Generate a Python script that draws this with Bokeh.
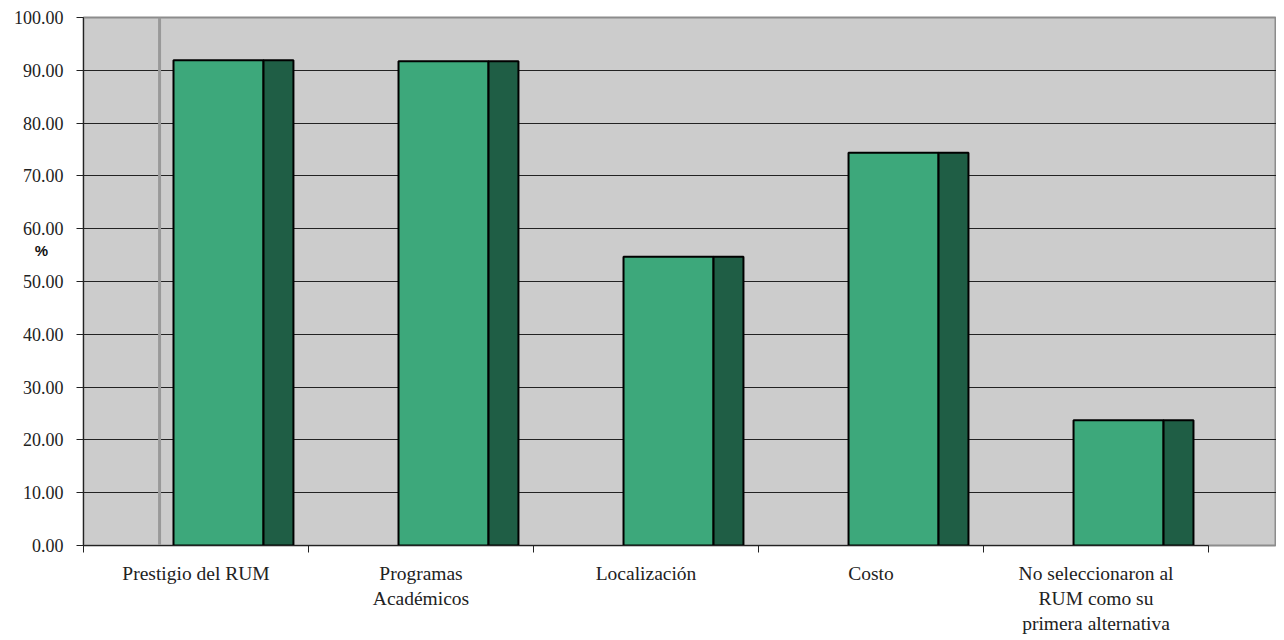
from bokeh.plotting import figure
from bokeh.models import FixedTicker, Range1d, Span, NumeralTickFormatter
from bokeh.embed import file_html
from bokeh.resources import INLINE

categories = ["Prestigio del RUM", "Programas\nAcadémicos", "Localización", "Costo",
              "No seleccionaron al\nRUM como su\nprimera alternativa"]
values = [91.9, 91.7, 54.7, 74.4, 23.7]
y_ticks = [0, 10, 20, 30, 40, 50, 60, 70, 80, 90, 100]

n = len(categories)
idx = list(range(n))
front_left = [i + 0.4 for i in idx]
front_right = [i + 0.8 for i in idx]
side_right = [i + 0.933 for i in idx]
zeros = [0] * n

p = figure(width=1276, height=640, output_backend="svg", toolbar_location=None,
           x_range=Range1d(0, 5.302), y_range=Range1d(0, 100),
           min_border_left=83, min_border_right=0, min_border_top=17, min_border_bottom=95)

p.background_fill_color = "#CCCCCC"
p.border_fill_color = "white"
p.outline_line_color = "#8C8C8C"
p.outline_line_width = 2

# grid
p.xgrid.visible = False
p.ygrid.ticker = FixedTicker(ticks=y_ticks[1:-1])
p.ygrid.grid_line_color = "#222222"
p.ygrid.grid_line_width = 1

# vertical wall line
p.add_layout(Span(location=0.338, dimension="height", line_color="#999999", line_width=3,
                  level="underlay"))

# bars
p.quad(left=front_left, right=front_right, bottom=zeros, top=values,
       fill_color="#3DA87B", line_color="#000000", line_width=2)
p.quad(left=front_right, right=side_right, bottom=zeros, top=values,
       fill_color="#1F5E45", line_color="#000000", line_width=2)

# y axis
p.yaxis.ticker = FixedTicker(ticks=y_ticks)
p.yaxis.formatter = NumeralTickFormatter(format="0.00")
p.yaxis.major_label_text_font = "Liberation Serif"
p.yaxis.major_label_text_font_size = "18px"
p.yaxis.major_label_text_color = "#222222"
p.yaxis.major_tick_out = 7
p.yaxis.major_tick_in = 0
p.yaxis.minor_tick_line_color = None
p.yaxis.axis_line_color = "#222222"
p.yaxis.major_tick_line_color = "#222222"
p.yaxis.major_label_standoff = 13
p.yaxis.axis_label = "%\n \n \n "
p.yaxis.axis_label_orientation = "horizontal"
p.yaxis.axis_label_text_font = "Liberation Sans"
p.yaxis.axis_label_text_font_style = "bold"
p.yaxis.axis_label_text_font_size = "15px"
p.yaxis.axis_label_text_color = "#111111"
p.yaxis.axis_label_standoff = -37

# x axis
p.xaxis.ticker = FixedTicker(ticks=[i + 0.5 for i in idx], minor_ticks=[0, 1, 2, 3, 4, 5])
p.xaxis.major_label_overrides = {i + 0.5: c for i, c in zip(idx, categories)}
p.xaxis.bounds = (0, 5)
p.xaxis.major_tick_out = 0
p.xaxis.major_tick_in = 0
p.xaxis.minor_tick_out = 7
p.xaxis.minor_tick_in = 0
p.xaxis.minor_tick_line_color = "#222222"
p.xaxis.axis_line_color = "#222222"
p.xaxis.major_label_text_font = "Liberation Serif"
p.xaxis.major_label_text_font_size = "19.5px"
p.xaxis.major_label_text_color = "#222222"
p.xaxis.major_label_standoff = 10

open("out.html", "w").write(file_html(p, INLINE))
